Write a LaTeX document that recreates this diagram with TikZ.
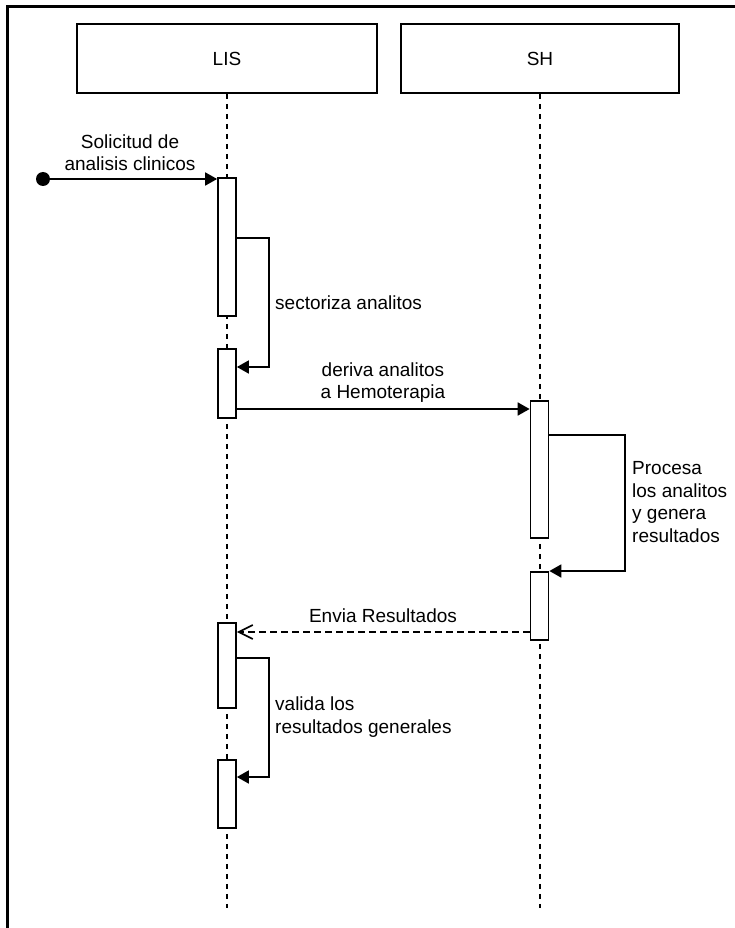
\documentclass[tikz,border=0pt]{standalone}
\usepackage{fontspec}
\setmainfont{Liberation Sans}
\usetikzlibrary{arrows.meta}

\begin{document}
\begin{tikzpicture}[x=1pt,y=-1pt,
  every node/.style={font=\fontsize{19}{22.5}\selectfont},
  head/.style={draw,line width=1.7pt,minimum width=300pt,minimum height=69pt,inner sep=0pt},
  act/.style={draw,fill=white,line width=1.7pt,minimum width=18pt,inner sep=0pt},
  life/.style={line width=1.5pt,dash pattern=on 5pt off 5pt},
  msg/.style={line width=1.7pt,-{Triangle[length=12pt,width=13pt]}},
  reply/.style={line width=1.7pt,dash pattern=on 7pt off 4pt,-{Straight Barb[length=14pt,width=14pt]}},
  lbl/.style={inner sep=0pt}]

\useasboundingbox (0,0) rectangle (735,928);

% frame
\draw[line width=3pt] (7,928) -- (7,6.5) -- (735,6.5);

% participants
\node[head] (lis) at (227,58.5) {LIS};
\node[head,minimum width=278pt] (sh) at (540,58.5) {SH};

% lifelines
\coordinate (lisend) at (227,908);
\coordinate (shend) at (540,908);
\draw[life] (lis.south) -- (lisend);
\draw[life] (sh.south) -- (shend);

% activations
\node[act,minimum height=138pt] (a1) at (227,247) {};
\node[act,minimum height=69pt] (a2) at (227,383.5) {};
\node[act,minimum height=137pt] (b1) at (539.5,469.5) {};
\node[act,minimum height=68pt] (b2) at (539.5,606) {};
\node[act,minimum height=85pt] (a3) at (227,665.5) {};
\node[act,minimum height=68pt] (a4) at (227,794) {};

% initial message
\coordinate (start) at (43,179);
\fill (start) circle (7pt);
\draw[msg] (start) -- (start -| a1.west);
\node[lbl,align=center] (m0) at (130,152.5) {Solicitud de\\analisis clinicos};

% self call on LIS
\coordinate (s1) at (236,238);
\coordinate (s1r) at (269,367);
\draw[msg] (s1 -| a1.east) -| (s1r) -- (s1r -| a2.east);
\node[lbl,anchor=west] (m1) at (275,303) {sectoriza analitos};

% LIS to SH
\coordinate (m2y) at (0,409);
\draw[msg] (m2y -| a2.east) -- (m2y -| b1.west);
\node[lbl,align=center] (m2) at (383,382.5) {deriva analitos\\a Hemoterapia};

% self call on SH
\coordinate (s2) at (548,435);
\coordinate (s2r) at (625,571);
\draw[msg] (s2 -| b1.east) -| (s2r) -- (s2r -| b2.east);
\node[lbl,anchor=west,align=left] (m3) at (632,502) {Procesa\\los analitos\\y genera\\resultados};

% reply
\coordinate (r1) at (0,632);
\draw[reply] (r1 -| b2.west) -- (r1 -| a3.east);
\node[lbl] (m4) at (383,616) {Envia Resultados};

% self call on LIS
\coordinate (s3) at (236,658);
\coordinate (s3r) at (269,777);
\draw[msg] (s3 -| a3.east) -| (s3r) -- (s3r -| a4.east);
\node[lbl,anchor=west,align=left] (m5) at (275,717) {valida los\\resultados generales};

\end{tikzpicture}
\end{document}
